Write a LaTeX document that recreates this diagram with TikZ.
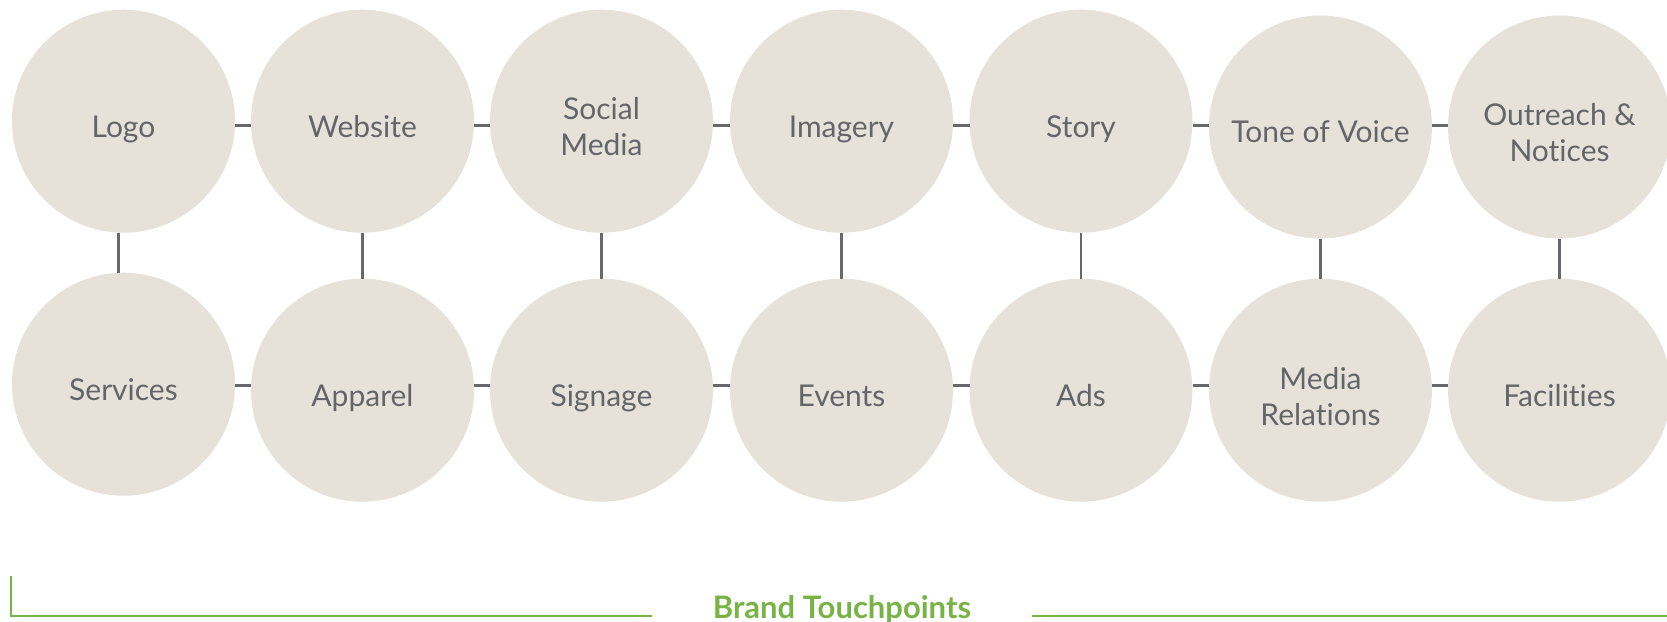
\documentclass[tikz,border=0pt]{standalone}
\usepackage{fontspec}
\setmainfont[Ligatures={NoCommon}]{Lato}
\definecolor{bubblefill}{HTML}{E6E2DA}
\definecolor{bubbletext}{HTML}{646569}
\definecolor{connline}{HTML}{68686C}
\definecolor{brandgreen}{HTML}{78B345}
\tikzset{
  bubble/.style={circle, fill=bubblefill, minimum size=223bp, inner sep=0pt, outer sep=0pt},
  lbl/.style={anchor=base, text=bubbletext, align=center, inner sep=0pt,
    font=\fontsize{30bp}{36bp}\selectfont},
  conn/.style={draw=connline, line width=2.5bp},
  brandline/.style={draw=brandgreen, line width=2.2bp},
  brandtitle/.style={anchor=base, text=brandgreen, inner sep=0pt,
    font=\fontsize{31bp}{36bp}\selectfont\bfseries}
}
\begin{document}
\begin{tikzpicture}[x=1bp, y=-1bp]
\useasboundingbox (0,0) rectangle (1667,622);
% top row
\node[bubble] (c1) at (123.5,121.2) {};
\node[bubble] (c2) at (362.5,121.2) {};
\node[bubble] (c3) at (601.5,121.2) {};
\node[bubble] (c4) at (841.5,121.2) {};
\node[bubble] (c5) at (1081,121.2) {};
\node[bubble] (c6) at (1320.5,127) {};
\node[bubble] (c7) at (1559.5,127) {};
% bottom row
\node[bubble] (d1) at (123.5,384.2) {};
\node[bubble] (d2) at (362.5,390.2) {};
\node[bubble] (d3) at (601.5,390.2) {};
\node[bubble] (d4) at (841.5,390.2) {};
\node[bubble] (d5) at (1081,390.2) {};
\node[bubble] (d6) at (1320.5,390.2) {};
\node[bubble] (d7) at (1559.5,390.2) {};
% labels
\node[lbl] (t1) at (123.5,137.2) {Logo};
\node[lbl] (t2) at (362.5,137.2) {Website};
\node[lbl] (t3) at (601.5,155.2) {Social\\Media};
\node[lbl] (t4) at (841.5,137.2) {Imagery};
\node[lbl] (t5) at (1081,137.2) {Story};
\node[lbl] (t6) at (1320.5,143) {Tone of Voice};
\node[lbl] (t7) at (1559.5,162) {Outreach \&\\Notices};
\node[lbl] (u1) at (123.5,400.2) {Services};
\node[lbl] (u2) at (362.5,406.2) {Apparel};
\node[lbl] (u3) at (601.5,406.2) {Signage};
\node[lbl] (u4) at (841.5,406.2) {Events};
\node[lbl] (u5) at (1081,406.2) {Ads};
\node[lbl] (u6) at (1320.5,425) {Media\\Relations};
\node[lbl] (u7) at (1559.5,406.2) {Facilities};
% connectors
\coordinate (rowA) at (0,125.5);
\coordinate (rowB) at (0,385.5);
\foreach \a/\b in {c1/c2,c2/c3,c3/c4,c4/c5,c5/c6,c6/c7}
  \path[conn] (\a.east |- rowA) -- (\b.west |- rowA);
\foreach \a/\b in {d1/d2,d2/d3,d3/d4,d4/d5,d5/d6,d6/d7}
  \path[conn] (\a.east |- rowB) -- (\b.west |- rowB);
\path[conn] ([xshift=-5bp]c1.south) -- ([xshift=-5bp]c1.south |- d1.north);
\foreach \a/\b in {c2/d2,c3/d3,c4/d4,c5/d5,c6/d6,c7/d7}
  \path[conn] (\a.south) -- (\a.south |- \b.north);
% brand bracket
\node[brandtitle] (title) at (842,618.7) {Brand Touchpoints};
\coordinate (bl) at (10.6,576);
\coordinate (bm) at (651.7,616);
\coordinate (br) at (1032,616);
\coordinate (be) at (1668,616);
\path[brandline] (bl) |- (bm);
\path[brandline] (br) -- (be);
\end{tikzpicture}
\end{document}
